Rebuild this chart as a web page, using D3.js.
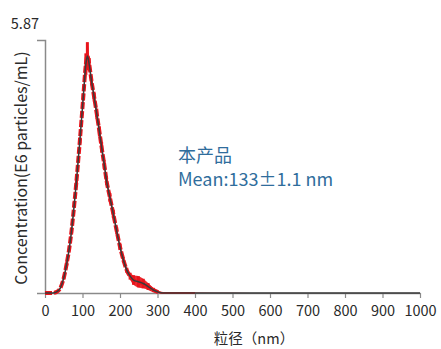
<!DOCTYPE html>
<html>
<head>
<meta charset="utf-8">
<script src="https://cdn.jsdelivr.net/npm/d3@7/dist/d3.min.js"></script>
<style>
  body { margin: 0; background: #fff; }
  svg { font-family: "Noto Sans CJK SC", "Noto Sans", sans-serif; }
</style>
</head>
<body>
<div id="chart"></div>
<script>
var width = 441,
    height = 349;

// particle size (nm) and concentration (E6 particles/mL)
var sizes = [0, 20, 30, 40, 50, 58, 65, 71, 78, 84, 93, 102, 109, 113, 118, 124, 131, 138, 145, 151,
             158, 164, 173, 182, 191, 200, 209, 218, 227, 236, 249, 262, 275, 289, 302, 315, 350, 400,
             500, 600, 700, 800, 900, 1000];
var conc = [0, 0, 0.02, 0.1, 0.35, 0.69, 1.05, 1.46, 2.05, 2.61, 3.54, 4.54, 5.31, 5.5, 5.3, 4.92, 4.55,
            4.16, 3.75, 3.38, 2.98, 2.61, 2.22, 1.84, 1.45, 1.07, 0.77, 0.53, 0.39, 0.30, 0.26, 0.22,
            0.15, 0.07, 0.02, 0, 0, 0, 0, 0, 0, 0, 0, 0];
// spread between replicate measurements
var spread = [0, 0, 0.01, 0.02, 0.04, 0.05, 0.05, 0.06, 0.06, 0.07, 0.07, 0.08, 0.25, 0.32, 0.15, 0.1,
              0.1, 0.12, 0.12, 0.12, 0.1, 0.1, 0.1, 0.09, 0.08, 0.07, 0.06, 0.06, 0.08, 0.11, 0.13,
              0.11, 0.08, 0.05, 0.03, 0.02, 0.015, 0.01, 0.005, 0, 0, 0, 0, 0];
var xTicks = [0, 100, 200, 300, 400, 500, 600, 700, 800, 900, 1000];
var yMax = 5.87;

var data = sizes.map(function(s, i) { return {x: s, y: conc[i], e: spread[i]}; });

var x = d3.scaleLinear().domain([0, 1000]).range([45, 420]);
var y = d3.scaleLinear().domain([0, yMax]).range([293, 40]);

var svg = d3.select("#chart").append("svg")
    .attr("width", width)
    .attr("height", height);

// axes
var xAxis = svg.append("g")
    .attr("transform", "translate(0," + y(0) + ")")
    .call(d3.axisBottom(x).tickValues(xTicks).tickFormat(d3.format("d"))
      .tickSize(5).tickSizeOuter(0).tickPadding(8));
xAxis.select(".domain").attr("stroke", "#8a8a8a").attr("stroke-width", 1.5);
xAxis.selectAll(".tick line").attr("stroke", "#8a8a8a").attr("stroke-width", 1.2);
xAxis.selectAll(".tick text")
    .attr("fill", "#2a2a2a")
    .style("font-size", "14.5px")
    .style("font-family", "'Noto Sans CJK SC', 'Noto Sans', sans-serif");

var yAxis = svg.append("g")
    .attr("transform", "translate(" + x(0) + ",0)")
    .call(d3.axisLeft(y).tickValues([]).tickSizeOuter(8));
yAxis.select(".domain").attr("stroke", "#8a8a8a").attr("stroke-width", 1.5);

svg.append("text")
    .attr("x", 39)
    .attr("y", 29)
    .attr("text-anchor", "end")
    .attr("fill", "#2a2a2a")
    .style("font-size", "14.5px")
    .text(d3.format(".2f")(yMax));

// replicate spread
var area = d3.area()
    .x(function(d) { return x(d.x); })
    .y0(function(d) { return y(Math.max(0, d.y - d.e)); })
    .y1(function(d) { return y(d.y + d.e); })
    .curve(d3.curveMonotoneX);

var line = d3.line()
    .x(function(d) { return x(d.x); })
    .y(function(d) { return y(d.y); })
    .curve(d3.curveMonotoneX);

svg.append("path")
    .datum(data)
    .attr("d", area)
    .attr("fill", "#e8141b")
    .attr("opacity", 0.9);

svg.append("path")
    .datum(data.filter(function(d) { return d.x <= 302; }))
    .attr("d", line)
    .attr("fill", "none")
    .attr("stroke", "#e8141b")
    .attr("stroke-width", 4)
    .attr("stroke-dasharray", "7,2");

svg.append("path")
    .datum(data.filter(function(d) { return d.x >= 289 && d.x <= 400; }))
    .attr("d", line)
    .attr("fill", "none")
    .attr("stroke", "#e8141b")
    .attr("stroke-width", 2);

svg.selectAll(".err")
    .data(data.filter(function(d) { return d.e > 0.03; }))
  .enter().append("line")
    .attr("class", "err")
    .attr("x1", function(d) { return x(d.x); })
    .attr("x2", function(d) { return x(d.x); })
    .attr("y1", function(d) { return y(d.y - d.e); })
    .attr("y2", function(d) { return y(d.y + d.e); })
    .attr("stroke", "#e8141b")
    .attr("stroke-width", 3);

// mean curve
svg.append("path")
    .datum(data)
    .attr("d", line)
    .attr("fill", "none")
    .attr("stroke", "#3a3a3a")
    .attr("stroke-width", 1.5);

// labels
svg.append("text")
    .attr("transform", "translate(27," + 168 + ") rotate(-90)")
    .attr("text-anchor", "middle")
    .attr("fill", "#2a2a2a")
    .style("font-size", "16px")
    .text("Concentration(E6 particles/mL)");

svg.append("text")
    .attr("x", 254)
    .attr("y", 344)
    .attr("text-anchor", "middle")
    .attr("fill", "#2a2a2a")
    .style("font-size", "14.5px")
    .text("粒径（nm）");

var note = svg.append("text")
    .attr("fill", "#2f6d9c")
    .style("font-size", "18px");
note.append("tspan").attr("x", 178).attr("y", 162).text("本产品");
note.append("tspan").attr("x", 178).attr("y", 186).text("Mean:133±1.1 nm");
</script>
</body>
</html>
